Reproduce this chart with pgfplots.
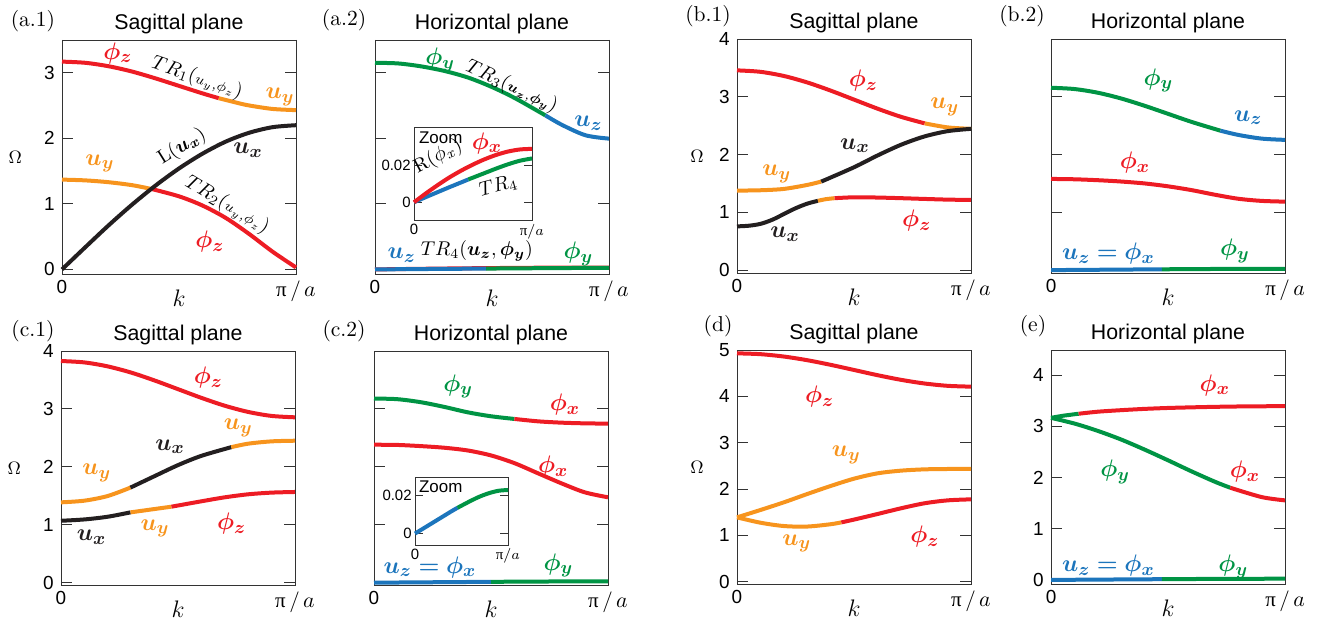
\documentclass[border=0pt]{standalone}
\usepackage{fontspec}
\usepackage{bm}
\usepackage{pgfplots}
\pgfplotsset{compat=1.18}
\newfontfamily\hv{Liberation Sans}
\newfontfamily\tms{Liberation Serif}
\newlength\px \setlength\px{0.5bp}
\definecolor{cred}{RGB}{237,28,36}
\definecolor{corange}{RGB}{247,148,29}
\definecolor{cgreen}{RGB}{0,148,68}
\definecolor{cblue}{RGB}{28,117,188}
\definecolor{cblack}{RGB}{35,31,32}
\pgfplotsset{
 panel/.style={scale only axis, width=234\px, height=234\px, anchor=north west,
  xmin=0, xmax=1, clip=false,
  axis line style={draw=black!80, line width=0.9\px},
  every tick/.style={draw=black!80, line width=0.9\px},
  tick align=inside, major tick length=11\px, ytick pos=both,
  xtick={0,1},
  xticklabels={{\hv\fontsize{9.5}{10}\selectfont 0},{\fontsize{10.5}{11}\selectfont{\tms π}\,/\,$a$\hspace{14\px}}},
  x tick label style={inner sep=0pt, yshift=-6\px, anchor=north},
  y tick label style={font=\hv\fontsize{9.5}{10}\selectfont, inner sep=0pt, xshift=-7\px},
  /pgf/number format/assume math mode=true,
  every axis plot/.append style={line width=4\px, line join=round, smooth, no markers},
 },
 inset/.style={scale only axis, anchor=north west, xmin=0, xmax=1, clip=false,
  axis background/.style={fill=white}, scaled y ticks=false,
  axis line style={draw=black!80, line width=0.9\px},
  every tick/.style={draw=black!80, line width=0.9\px},
  tick align=inside, major tick length=8\px, ytick pos=both,
  xtick={0,1},
  xticklabels={{\hv\fontsize{7.5}{8}\selectfont 0},{\fontsize{7.5}{8}\selectfont{\tms π}/$a$\hspace{6\px}}},
  x tick label style={inner sep=0pt, yshift=-3\px, anchor=north},
  ytick={0,0.02}, yticklabels={0,0.02},
  y tick label style={font=\hv\fontsize{7.5}{8}\selectfont, inner sep=0pt, xshift=-3\px},
  every axis plot/.append style={line width=4\px, line join=round, smooth, no markers},
 },
}
\newcommand\cl[4]{\node[text=#1,font=\fontsize{12.5}{14}\selectfont,inner sep=0pt] at (axis cs:#2,#3) {$\bm{#4}$};}
\newcommand\rlab[4]{\node[font=\fontsize{9.8}{11}\selectfont,rotate=#1,inner sep=0pt] at (axis cs:#2,#3) {$#4$};}
\newcommand\ptitle[1]{\node[font=\hv\fontsize{10.7}{12}\selectfont,anchor=base,inner sep=0pt] at (axis description cs:0.5,1.045) {#1};}
\newcommand\plet[3]{\node[font=\fontsize{10.8}{12}\selectfont,anchor=base,inner sep=0pt] at (axis description cs:#1,#2) {#3};}
\newcommand\klab{\node[font=\fontsize{12.5}{14}\selectfont,anchor=base,inner sep=0pt] at (axis description cs:0.5,-0.137) {$k$};}
\newcommand\Olab[1]{\node[font=\fontsize{9}{10}\selectfont,inner sep=0pt] at (axis description cs:#1,0.5) {$\Omega$};}
\begin{document}
\begin{tikzpicture}
\useasboundingbox (0,0) rectangle (1321\px,-624\px);
% ---------------- (a.1)
\begin{axis}[panel, at={(62\px,-40\px)}, ymin=-0.07, ymax=3.5, ytick={0,1,2,3}]
\addplot[cred] coordinates {(0,3.17)(0.1,3.152)(0.2,3.099)(0.3,3.018)(0.4,2.914)(0.5,2.80)(0.6,2.686)(0.67,2.612)};
\addplot[corange] coordinates {(0.67,2.612)(0.75,2.54)(0.8,2.501)(0.9,2.448)(1,2.43)};
\addplot[corange] coordinates {(0,1.37)(0.1,1.358)(0.2,1.33)(0.3,1.285)(0.385,1.225)};
\addplot[cred] coordinates {(0.385,1.225)(0.5,1.115)(0.6,0.975)(0.7,0.785)(0.8,0.54)(0.9,0.27)(1,0.03)};
\addplot[cblack] coordinates {(0,0)(0.1,0.34)(0.2,0.675)(0.3,0.99)(0.4,1.28)(0.5,1.54)(0.6,1.765)(0.7,1.95)(0.8,2.085)(0.9,2.17)(1,2.2)};
\cl{cred}{0.239}{3.30}{\phi_z}
\rlab{-19}{0.577}{2.92}{TR_1({\scriptstyle u_y,\phi_z})}
\cl{corange}{0.932}{2.63}{u_y}
\rlab{32}{0.513}{1.87}{\mathrm{L}(\bm{u_x})}
\cl{cblack}{0.795}{1.82}{u_x}
\cl{corange}{0.162}{1.62}{u_y}
\rlab{-31}{0.705}{0.98}{TR_2({\scriptstyle u_y,\phi_z})}
\cl{cred}{0.632}{0.42}{\phi_z}
\ptitle{Sagittal plane}
\plet{-0.124}{1.056}{(a.1)}
\klab
\Olab{-0.2}
\end{axis}
% ---------------- (a.2)
\begin{axis}[panel, at={(375\px,-40\px)}, ymin=-0.07, ymax=3.5, ytick={0,1,2,3}, yticklabels={}]
\addplot[cred] coordinates {(0,0)(0.1,0.0048)(0.2,0.0093)(0.3,0.0135)(0.4,0.0172)(0.5,0.0205)(0.6,0.0234)(0.7,0.0258)(0.8,0.0276)(0.9,0.0287)(1,0.029)};
\addplot[cblue] coordinates {(0,0)(0.1,0.0028)(0.2,0.0055)(0.3,0.0082)(0.4,0.0108)(0.475,0.0128)};
\addplot[cgreen] coordinates {(0.475,0.0128)(0.6,0.0159)(0.7,0.0184)(0.8,0.0207)(0.9,0.0226)(1,0.0238)};
\addplot[cgreen] coordinates {(0,3.152)(0.1,3.142)(0.2,3.096)(0.3,3.025)(0.4,2.924)(0.5,2.782)(0.6,2.609)(0.728,2.35)};
\addplot[cblue] coordinates {(0.728,2.35)(0.8,2.203)(0.9,2.046)(1,1.995)};
\cl{cgreen}{0.278}{3.20}{\phi_y}
\rlab{-25}{0.584}{2.79}{TR_3({\scriptstyle\bm{u_z},\bm{\phi_y}})}
\cl{cblue}{0.912}{2.23}{u_z}
\cl{cblue}{0.114}{0.22}{u_z}
\rlab{0}{0.435}{0.29}{TR_4(\bm{u_z},\bm{\phi_y})}
\cl{cgreen}{0.869}{0.24}{\phi_y}
\ptitle{Horizontal plane}
\plet{-0.132}{1.06}{(a.2)}
\klab
\end{axis}
\begin{axis}[inset, at={(414\px,-127.7\px)}, width=118\px, height=93\px, ymin=-0.01, ymax=0.0405]
\addplot[cblue] coordinates {(0,0)(0.1,0.0028)(0.2,0.0055)(0.3,0.0082)(0.4,0.0108)(0.46,0.0124)};
\addplot[cgreen] coordinates {(0.46,0.0124)(0.6,0.0159)(0.7,0.0184)(0.8,0.0207)(0.9,0.0226)(1,0.0238)};
\addplot[cred] coordinates {(0,0)(0.1,0.0048)(0.2,0.0093)(0.3,0.0135)(0.4,0.0172)(0.5,0.0205)(0.6,0.0234)(0.7,0.0258)(0.8,0.0276)(0.9,0.0287)(1,0.029)};
\node[font=\hv\fontsize{8.5}{9}\selectfont, anchor=north west, inner sep=0pt] at (axis description cs:0.04,0.96) {Zoom};
\cl{cred}{0.618}{0.032}{\phi_x}
\rlab{28}{0.204}{0.0248}{\mathrm{R}(\phi_x)}
\rlab{15}{0.714}{0.0086}{TR_4}
\end{axis}
% ---------------- (b.1)
\begin{axis}[panel, at={(737\px,-39\px)}, ymin=-0.05, ymax=4, ytick={0,1,2,3,4}]
\addplot[cred] coordinates {(0,3.457)(0.1,3.432)(0.2,3.36)(0.3,3.248)(0.4,3.107)(0.5,2.951)(0.6,2.795)(0.7,2.654)(0.802,2.54)};
\addplot[corange] coordinates {(0.802,2.54)(0.9,2.47)(1,2.445)};
\addplot[corange] coordinates {(0,1.376)(0.1,1.382)(0.2,1.405)(0.3,1.474)(0.36,1.532)};
\addplot[cblack] coordinates {(0.36,1.532)(0.5,1.78)(0.6,1.983)(0.7,2.168)(0.8,2.312)(0.9,2.405)(1,2.445)};
\addplot[cblack] coordinates {(0,0.757)(0.05,0.768)(0.1,0.8)(0.15,0.87)(0.2,0.97)(0.25,1.07)(0.3,1.15)(0.346,1.2)};
\addplot[corange] coordinates {(0.346,1.2)(0.38,1.228)(0.417,1.245)};
\addplot[cred] coordinates {(0.417,1.245)(0.5,1.26)(0.6,1.256)(0.7,1.245)(0.8,1.232)(0.9,1.22)(1,1.214)};
\cl{cred}{0.54}{3.28}{\phi_z}
\cl{corange}{0.888}{2.82}{u_y}
\cl{cblack}{0.504}{2.15}{u_x}
\cl{corange}{0.17}{1.66}{u_y}
\cl{cblack}{0.205}{0.62}{u_x}
\cl{cred}{0.768}{0.85}{\phi_z}
\ptitle{Sagittal plane}
\plet{-0.124}{1.073}{(b.1)}
\klab
\Olab{-0.171}
\end{axis}
% ---------------- (b.2)
\begin{axis}[panel, at={(1051\px,-39\px)}, ymin=-0.05, ymax=4, ytick={0,1,2,3,4}, yticklabels={}]
\addplot[cgreen] coordinates {(0,3.156)(0.1,3.134)(0.2,3.07)(0.3,2.97)(0.4,2.844)(0.5,2.705)(0.6,2.566)(0.724,2.413)};
\addplot[cblue] coordinates {(0.724,2.413)(0.8,2.34)(0.9,2.276)(1,2.254)};
\addplot[cred] coordinates {(0,1.578)(0.1,1.572)(0.2,1.556)(0.3,1.533)(0.4,1.5)(0.5,1.45)(0.6,1.385)(0.7,1.305)(0.8,1.235)(0.9,1.198)(1,1.185)};
\addplot[cblue] coordinates {(0,0)(0.1,0.003)(0.2,0.006)(0.3,0.009)(0.4,0.012)(0.474,0.014)};
\addplot[cgreen] coordinates {(0.474,0.014)(0.6,0.0173)(0.7,0.0196)(0.8,0.0214)(0.9,0.0226)(1,0.023)};
\cl{cgreen}{0.459}{3.28}{\phi_y}
\cl{cblue}{0.843}{2.64}{u_z}
\cl{cred}{0.359}{1.86}{\phi_x}
\cl{cblue}{0.245}{0.28}{u_z=\phi_x}
\cl{cgreen}{0.786}{0.33}{\phi_y}
\ptitle{Horizontal plane}
\plet{-0.124}{1.073}{(b.2)}
\klab
\end{axis}
% ---------------- (c.1)
\begin{axis}[panel, at={(61\px,-351\px)}, ymin=-0.04, ymax=4, ytick={0,1,2,3,4}]
\addplot[cred] coordinates {(0,3.827)(0.1,3.803)(0.2,3.734)(0.3,3.627)(0.4,3.491)(0.5,3.341)(0.6,3.191)(0.7,3.055)(0.8,2.948)(0.9,2.879)(1,2.855)};
\addplot[corange] coordinates {(0,1.387)(0.1,1.416)(0.2,1.497)(0.297,1.642)};
\addplot[cblack] coordinates {(0.297,1.642)(0.4,1.84)(0.5,2.03)(0.6,2.19)(0.728,2.34)};
\addplot[corange] coordinates {(0.728,2.34)(0.8,2.40)(0.9,2.44)(1,2.451)};
\addplot[cblack] coordinates {(0,1.069)(0.1,1.092)(0.2,1.139)(0.297,1.214)};
\addplot[corange] coordinates {(0.297,1.214)(0.4,1.272)(0.472,1.312)};
\addplot[cred] coordinates {(0.472,1.312)(0.6,1.405)(0.7,1.474)(0.8,1.526)(0.9,1.555)(1,1.566)};
\cl{cred}{0.63}{3.54}{\phi_z}
\cl{corange}{0.758}{2.67}{u_y}
\cl{cblack}{0.466}{2.35}{u_x}
\cl{corange}{0.153}{1.89}{u_y}
\cl{cblack}{0.131}{0.79}{u_x}
\cl{corange}{0.402}{0.94}{u_y}
\cl{cred}{0.729}{1.02}{\phi_z}
\ptitle{Sagittal plane}
\plet{-0.12}{1.064}{(c.1)}
\klab
\Olab{-0.2}
\end{axis}
% ---------------- (c.2)
\begin{axis}[panel, at={(374\px,-351\px)}, ymin=-0.04, ymax=4, ytick={0,1,2,3,4}, yticklabels={}]
\addplot[cgreen] coordinates {(0,3.179)(0.1,3.168)(0.2,3.116)(0.3,3.035)(0.4,2.942)(0.5,2.873)(0.6,2.827)};
\addplot[cred] coordinates {(0.6,2.827)(0.7,2.786)(0.8,2.763)(0.9,2.751)(1,2.746)};
\addplot[cred] coordinates {(0,2.382)(0.1,2.378)(0.2,2.358)(0.3,2.33)(0.4,2.283)(0.5,2.197)(0.6,2.064)(0.7,1.89)(0.8,1.717)(0.9,1.561)(1,1.474)};
\addplot[cblue] coordinates {(0,0)(0.1,0.003)(0.2,0.006)(0.3,0.009)(0.4,0.012)(0.5,0.0148)};
\addplot[cgreen] coordinates {(0.5,0.0148)(0.6,0.0173)(0.7,0.0196)(0.8,0.0214)(0.9,0.0226)(1,0.023)};
\cl{cgreen}{0.36}{3.39}{\phi_y}
\cl{cred}{0.816}{3.07}{\phi_x}
\cl{cred}{0.766}{2.0}{\phi_x}
\cl{cblue}{0.239}{0.27}{u_z=\phi_x}
\cl{cgreen}{0.788}{0.30}{\phi_y}
\ptitle{Horizontal plane}
\plet{-0.128}{1.064}{(c.2)}
\klab
\end{axis}
\begin{axis}[inset, at={(415\px,-477.3\px)}, width=93\px, height=68\px, ymin=-0.0062, ymax=0.0297]
\addplot[cblue] coordinates {(0,0)(0.1,0.003)(0.2,0.006)(0.3,0.009)(0.4,0.012)(0.457,0.0136)};
\addplot[cgreen] coordinates {(0.457,0.0136)(0.6,0.0173)(0.7,0.0196)(0.8,0.0214)(0.9,0.0226)(1,0.023)};
\node[font=\hv\fontsize{8.5}{9}\selectfont, anchor=north west, inner sep=0pt] at (axis description cs:0.04,0.96) {Zoom};
\end{axis}
% ---------------- (d)
\begin{axis}[panel, at={(737\px,-350\px)}, ymin=-0.05, ymax=5, ytick={0,1,2,3,4,5}]
\addplot[cred] coordinates {(0,4.928)(0.1,4.91)(0.2,4.859)(0.3,4.78)(0.4,4.68)(0.5,4.569)(0.6,4.457)(0.7,4.357)(0.8,4.278)(0.9,4.227)(1,4.209)};
\addplot[corange] coordinates {(0,1.388)(0.1,1.547)(0.2,1.712)(0.3,1.892)(0.4,2.065)(0.5,2.223)(0.6,2.338)(0.7,2.396)(0.8,2.424)(0.9,2.432)(1,2.432)};
\addplot[corange] coordinates {(0,1.388)(0.1,1.273)(0.2,1.201)(0.3,1.19)(0.4,1.24)(0.446,1.28)};
\addplot[cred] coordinates {(0.446,1.28)(0.5,1.34)(0.6,1.46)(0.7,1.583)(0.8,1.691)(0.9,1.755)(1,1.777)};
\cl{cred}{0.353}{3.99}{\phi_z}
\cl{corange}{0.467}{2.73}{u_y}
\cl{corange}{0.255}{0.83}{u_y}
\cl{cred}{0.803}{0.97}{\phi_z}
\ptitle{Sagittal plane}
\plet{-0.081}{1.077}{(d)}
\klab
\Olab{-0.171}
\end{axis}
% ---------------- (e)
\begin{axis}[panel, at={(1051\px,-350\px)}, ymin=-0.08, ymax=4.49, ytick={0,1,2,3,4}]
\addplot[cgreen] coordinates {(0,3.165)(0.05,3.205)(0.118,3.245)};
\addplot[cred] coordinates {(0.118,3.245)(0.2,3.285)(0.3,3.315)(0.4,3.34)(0.5,3.358)(0.6,3.37)(0.7,3.38)(0.8,3.387)(0.9,3.391)(1,3.393)};
\addplot[cgreen] coordinates {(0,3.165)(0.1,3.054)(0.2,2.91)(0.3,2.741)(0.4,2.545)(0.5,2.336)(0.6,2.121)(0.7,1.918)(0.766,1.80)};
\addplot[cred] coordinates {(0.766,1.80)(0.9,1.618)(1,1.553)};
\addplot[cblue] coordinates {(0,0)(0.1,0.003)(0.2,0.006)(0.3,0.009)(0.4,0.012)(0.474,0.014)};
\addplot[cgreen] coordinates {(0.474,0.014)(0.6,0.0173)(0.7,0.0196)(0.8,0.0214)(0.9,0.0226)(1,0.023)};
\cl{cred}{0.70}{3.80}{\phi_x}
\cl{cred}{0.829}{2.11}{\phi_x}
\cl{cgreen}{0.274}{2.11}{\phi_y}
\cl{cblue}{0.245}{0.28}{u_z=\phi_x}
\cl{cgreen}{0.779}{0.25}{\phi_y}
\ptitle{Horizontal plane}
\plet{-0.077}{1.077}{(e)}
\klab
\end{axis}
\end{tikzpicture}
\end{document}
